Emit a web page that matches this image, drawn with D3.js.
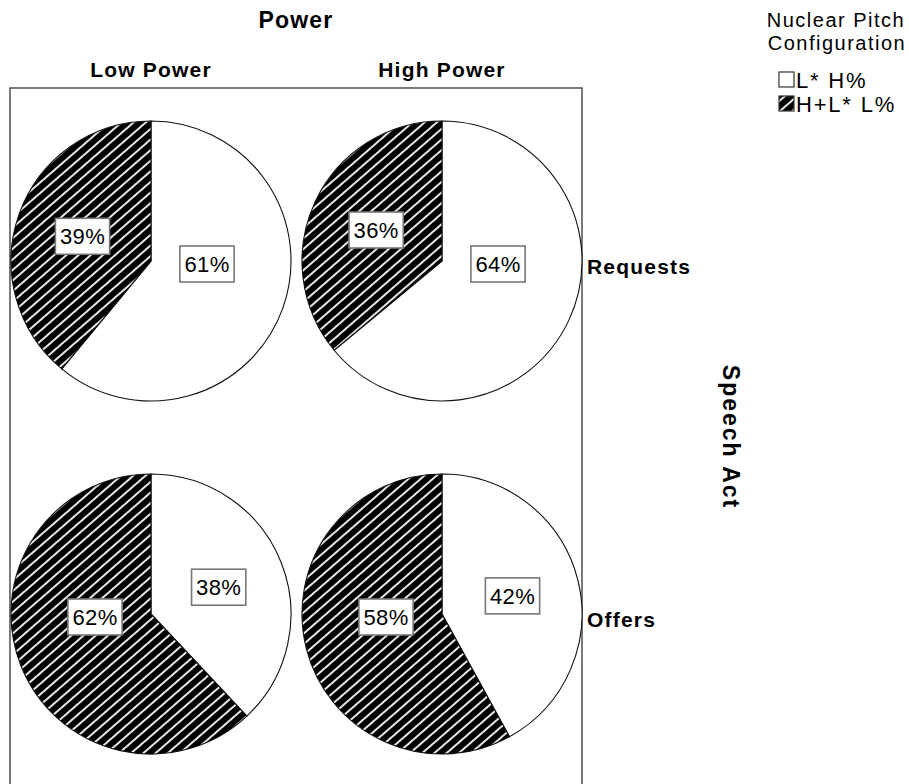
<!DOCTYPE html>
<html>
<head>
<meta charset="utf-8">
<script src="https://cdn.jsdelivr.net/npm/d3@7"></script>
<style>
  html, body { margin: 0; padding: 0; background: #fff; }
  svg { display: block; }
  text { font-family: "Liberation Sans", Arial, sans-serif; fill: #000; }
</style>
</head>
<body>
<svg id="chart" width="909" height="784"></svg>
<script>
// Panel columns (Power) and rows (Speech Act)
const powerLevels = ["Low Power", "High Power"];
const speechActs = ["Requests", "Offers"];
const pitchConfigs = ["L* H%", "H+L* L%"];

// Percent of each pitch configuration, one value per power level
const requestsLH = [61, 64];
const requestsHL = [39, 36];
const offersLH = [38, 42];
const offersHL = [62, 58];

const shares = {
  "Requests": [requestsLH, requestsHL],
  "Offers": [offersLH, offersHL]
};

const svg = d3.select("#chart");
const defs = svg.append("defs");

// Diagonal hatch used for the H+L* L% slices
const hp = 8;
const hatch = defs.append("pattern")
  .attr("id", "hatch")
  .attr("patternUnits", "userSpaceOnUse")
  .attr("width", hp)
  .attr("height", hp)
  .attr("patternTransform", "rotate(-41)");
hatch.append("rect").attr("width", hp).attr("height", hp).attr("fill", "#000");
hatch.append("line")
  .attr("x1", 0).attr("x2", hp)
  .attr("y1", hp / 2).attr("y2", hp / 2)
  .attr("stroke", "#fff").attr("stroke-width", 1.8);

const fillFor = cfg => cfg === pitchConfigs[0] ? "#fff" : "url(#hatch)";

// Panel layout
const frame = { left: 10, top: 88, right: 582, bottom: 800 };
const radius = 140;
const xCol = d3.scalePoint().domain(powerLevels).range([151, 442]);
const yRow = d3.scalePoint().domain(speechActs).range([261, 614]);

svg.append("rect")
  .attr("x", frame.left).attr("y", frame.top)
  .attr("width", frame.right - frame.left)
  .attr("height", frame.bottom - frame.top)
  .attr("fill", "none").attr("stroke", "#444").attr("stroke-width", 1.4);

const pie = d3.pie().sort(null).value(d => d.value);
const arc = d3.arc().innerRadius(0).outerRadius(radius);

// Label anchor: half radius along the slice bisector; slices wider than
// half the pie put the label level with the centre on their own side.
function labelPoint(d) {
  const span = d.endAngle - d.startAngle;
  let a = (d.startAngle + d.endAngle) / 2;
  let k = 0.52;
  if (span > Math.PI) {
    a = a < Math.PI ? Math.PI / 2 : 3 * Math.PI / 2;
    k = 0.4;
  }
  return [Math.sin(a) * k * radius, -Math.cos(a) * k * radius + (span > Math.PI ? 3 : 0)];
}

speechActs.forEach(act => {
  powerLevels.forEach((level, ci) => {
    const data = pitchConfigs.map((cfg, si) => ({ cfg, value: shares[act][si][ci] }));
    const arcs = pie(data);
    const g = svg.append("g")
      .attr("transform", `translate(${xCol(level)},${yRow(act)})`);

    g.selectAll("path.slice")
      .data(arcs)
      .join("path")
      .attr("class", "slice")
      .attr("d", arc)
      .attr("fill", d => fillFor(d.data.cfg))
      .attr("stroke", "#111")
      .attr("stroke-width", 1.1);

    const labels = g.selectAll("g.lab")
      .data(arcs)
      .join("g")
      .attr("class", "lab")
      .attr("transform", d => `translate(${labelPoint(d)})`);

    labels.each(function(d) {
      const lg = d3.select(this);
      const box = lg.append("rect");
      const t = lg.append("text")
        .attr("text-anchor", "middle")
        .attr("dy", "0.36em")
        .style("font-size", "22px")
        .style("letter-spacing", "0.4px")
        .text(`${d.data.value}%`);
      const w = t.node().getComputedTextLength() + 9;
      const h = 36;
      box.attr("x", -w / 2).attr("y", -h / 2)
        .attr("width", w).attr("height", h)
        .attr("fill", "#fff").attr("stroke", "#777").attr("stroke-width", 1.6);
    });
  });
});

// Titles
svg.append("text")
  .attr("x", (frame.left + frame.right) / 2).attr("y", 28)
  .attr("text-anchor", "middle")
  .style("font-size", "23px").style("font-weight", "bold").style("letter-spacing", "1.2px")
  .text("Power");

svg.selectAll("text.col")
  .data(powerLevels)
  .join("text")
  .attr("class", "col")
  .attr("x", d => xCol(d)).attr("y", 77)
  .attr("text-anchor", "middle")
  .style("font-size", "21px").style("font-weight", "bold").style("letter-spacing", "1.2px")
  .text(d => d);

svg.selectAll("text.row")
  .data(speechActs)
  .join("text")
  .attr("class", "row")
  .attr("x", frame.right + 5).attr("y", d => yRow(d) + 13)
  .style("font-size", "21px").style("font-weight", "bold").style("letter-spacing", "1.2px")
  .text(d => d);

svg.append("text")
  .attr("transform", `translate(723,437) rotate(90)`)
  .attr("text-anchor", "middle")
  .style("font-size", "23px").style("font-weight", "bold").style("letter-spacing", "2px")
  .text("Speech Act");

// Legend
const legend = svg.append("g");
legend.append("text")
  .attr("x", 836).attr("y", 27).attr("text-anchor", "middle")
  .style("font-size", "20px").style("letter-spacing", "1.5px")
  .text("Nuclear Pitch");
legend.append("text")
  .attr("x", 837).attr("y", 50).attr("text-anchor", "middle")
  .style("font-size", "20px").style("letter-spacing", "1.5px")
  .text("Configuration");

const items = legend.selectAll("g.item")
  .data(pitchConfigs)
  .join("g")
  .attr("class", "item")
  .attr("transform", (d, i) => `translate(779,${72 + i * 24})`);
items.append("rect")
  .attr("width", 15).attr("height", 15)
  .attr("fill", d => fillFor(d))
  .attr("stroke", "#333").attr("stroke-width", 1.2);
items.append("text")
  .attr("x", 17).attr("y", 15.5)
  .style("font-size", "22px").style("letter-spacing", "1.8px")
  .text(d => d);
</script>
</body>
</html>
